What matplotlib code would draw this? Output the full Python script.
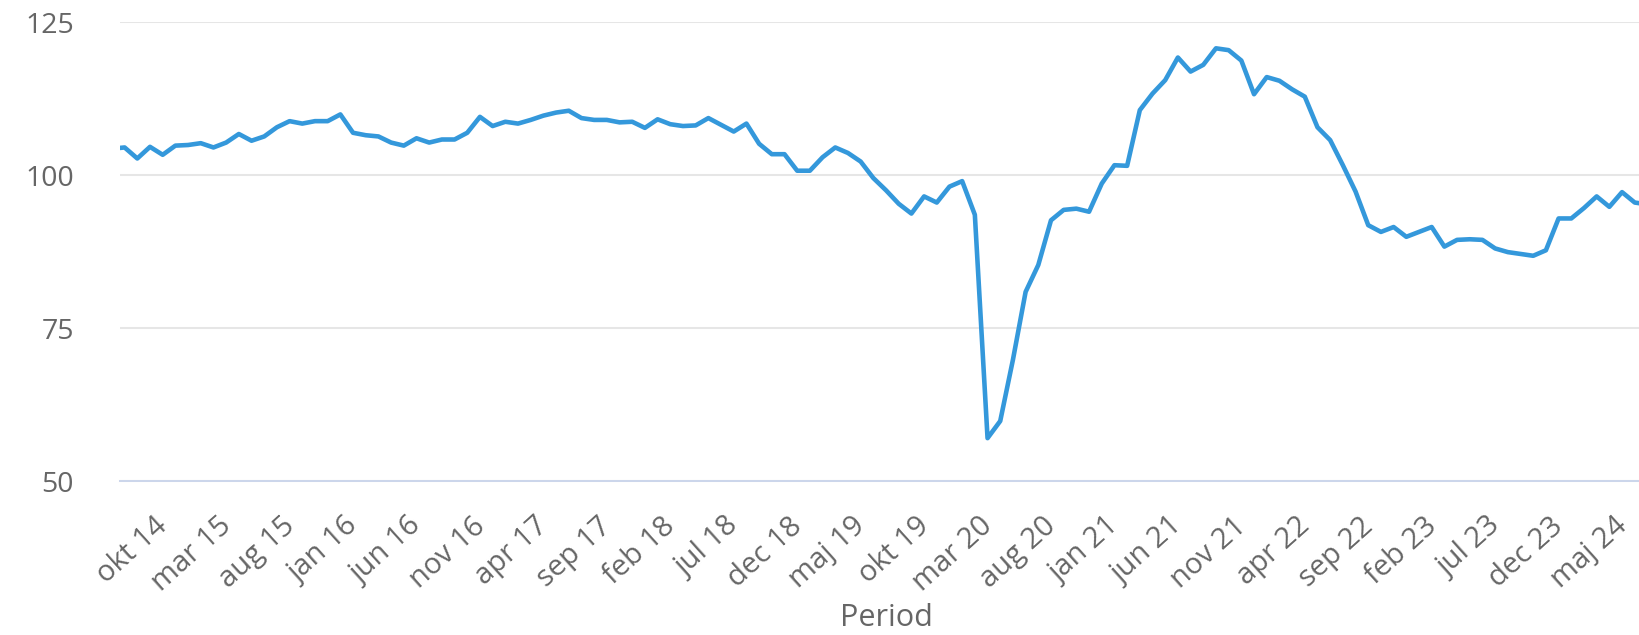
import numpy as np
import matplotlib
matplotlib.use("Agg")
import matplotlib.pyplot as plt
from matplotlib.transforms import ScaledTranslation

# ---- data (monthly index, jul 14 .. aug 24) ----
month_names = ["jan", "feb", "mar", "apr", "maj", "jun",
               "jul", "aug", "sep", "okt", "nov", "dec"]
start_year, start_month = 2014, 7  # first value = jul 14

values_2014 = [104.3, 104.5, 102.7, 104.6, 103.3, 104.8]  # jul-dec
values_2015 = [104.9, 105.2, 104.5, 105.3, 106.7, 105.6, 106.3, 107.8, 108.8, 108.4, 108.8, 108.8]
values_2016 = [109.9, 106.9, 106.5, 106.3, 105.3, 104.8, 106.0, 105.3, 105.8, 105.8, 106.9, 109.5]
values_2017 = [108.0, 108.7, 108.4, 109.0, 109.7, 110.2, 110.5, 109.3, 109.0, 109.0, 108.6, 108.7]
values_2018 = [107.7, 109.1, 108.3, 108.0, 108.1, 109.3, 108.2, 107.1, 108.4, 105.1, 103.4, 103.4]
values_2019 = [100.7, 100.7, 102.9, 104.5, 103.6, 102.2, 99.5, 97.5, 95.3, 93.7, 96.5, 95.5]
values_2020 = [98.1, 99.0, 93.5, 57.0, 59.8, 69.8, 80.9, 85.3, 92.6, 94.3, 94.5, 94.0]
values_2021 = [98.6, 101.6, 101.5, 110.6, 113.3, 115.5, 119.2, 116.9, 118.0, 120.7, 120.4, 118.7]
values_2022 = [113.2, 116.0, 115.4, 114.0, 112.8, 107.8, 105.7, 101.6, 97.3, 91.8, 90.7, 91.5]
values_2023 = [89.9, 90.7, 91.5, 88.3, 89.4, 89.5, 89.4, 88.0, 87.4, 87.1, 86.8, 87.7]
values_2024 = [92.9, 92.9, 94.6, 96.5, 94.8, 97.2, 95.5, 95.2]  # jan-aug

y_ticks = [50, 75, 100, 125]
x_title = "Period"

values = (values_2014 + values_2015 + values_2016 + values_2017 + values_2018 +
          values_2019 + values_2020 + values_2021 + values_2022 + values_2023 + values_2024)

periods = []
y, m = start_year, start_month
for _ in values:
    periods.append(f"{month_names[m - 1]} {y % 100:02d}")
    m += 1
    if m > 12:
        m = 1
        y += 1

x = np.arange(len(values))
first_label = periods.index("okt 14")
tick_idx = x[first_label::5]
tick_labels = [periods[i] for i in tick_idx]

# ---- styling ----
text_color = "#666666"
plt.rcParams["font.family"] = ["Open Sans", "DejaVu Sans"]

fig = plt.figure(figsize=(16.4, 6.35), dpi=100)
W, H = 1640, 635
left_px, right_px, top_px, bottom_px = 120, 1640, 22, 481
ax = fig.add_axes([left_px / W, 1 - bottom_px / H,
                   (right_px - left_px) / W, (bottom_px - top_px) / H])

ax.plot(x, values, color="#3498db", lw=3.3, solid_joinstyle="round",
        solid_capstyle="round", zorder=3)

px_per_month = 12.69
okt_px = 150
ax.set_xlim(first_label - (okt_px - left_px) / px_per_month,
            first_label + (right_px - okt_px) / px_per_month)
ax.set_ylim(50, 125)

ax.set_yticks(y_ticks)
ax.set_yticklabels([str(v) for v in y_ticks])
ax.grid(axis="y", color="#e6e6e6", lw=1.45, zorder=0)
ax.set_axisbelow(True)

for s in ["top", "right", "left"]:
    ax.spines[s].set_visible(False)
ax.spines["bottom"].set_color("#ccd6eb")
ax.spines["bottom"].set_linewidth(1.45)
ax.spines["bottom"].set_zorder(1)

ax.set_xticks(tick_idx)
ax.set_xticklabels(tick_labels, rotation=42, ha="right", va="top",
                   rotation_mode="anchor")
ax.tick_params(axis="x", length=0, pad=22, labelsize=21, labelcolor=text_color)
ax.tick_params(axis="y", length=0, pad=33, labelsize=20.5, labelcolor=text_color)
for lab in ax.get_xticklabels():
    lab.set_transform(lab.get_transform() + ScaledTranslation(4 / 100, 0, fig.dpi_scale_trans))

fig.text(886 / W, 2 / H, x_title, ha="center", va="bottom",
         fontsize=22, color=text_color)

fig.savefig("out.png", dpi=100, facecolor="white")
